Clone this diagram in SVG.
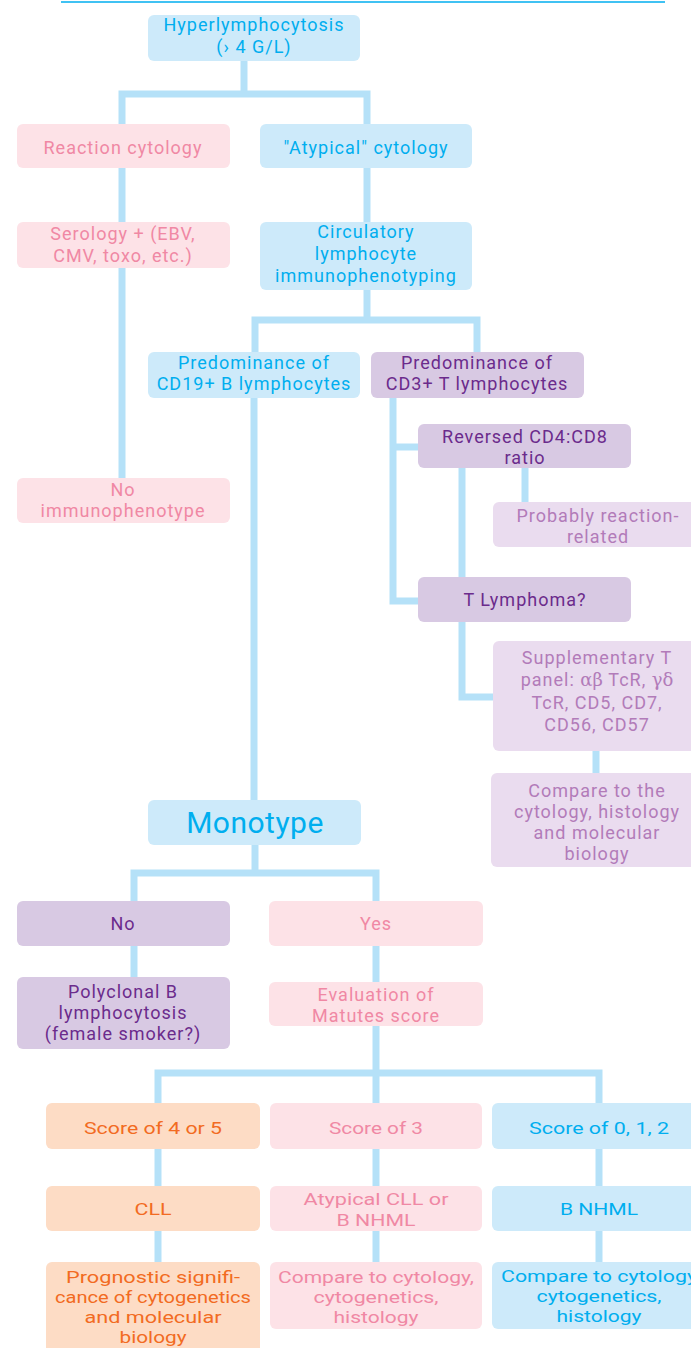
<svg xmlns="http://www.w3.org/2000/svg" width="691" height="1348" viewBox="0 0 691 1348">
<style>
text{font-family:Roboto,"Liberation Sans",sans-serif;font-size:18px;letter-spacing:1px;text-anchor:middle}
text.c{font-size:17px;letter-spacing:0}
.b rect{fill:#CDEAFA}.b text{fill:#00AEEF}
.p rect{fill:#FDE2E7}.p text{fill:#F088A4}
.d rect{fill:#D8C9E3}.d text{fill:#6B2B8C}
.l rect{fill:#EADCEF}.l text{fill:#B27BB9}
.o rect{fill:#FDDCC5}.o text{fill:#F26B22}
.g{font-family:"DejaVu Serif","Liberation Serif",serif;letter-spacing:0}
#connectors path{fill:none;stroke:#B5E1F8;stroke-width:7;stroke-linejoin:miter}
</style>
<line x1="61" y1="2" x2="665" y2="2" stroke="#00AEEF" stroke-width="1.5"/>
<g id="connectors">
<path d="M244,61V94"/><path d="M122,124V94H367V124"/>
<path d="M122,168V222"/><path d="M122,268V478"/>
<path d="M367,168V222"/><path d="M367,290V320"/><path d="M255,352V320H477V352"/>
<path d="M254,398V800"/>
<path d="M393,398V601H418"/><path d="M393,447H418"/>
<path d="M462,468V577"/><path d="M525,468V502"/>
<path d="M462,622V697H493"/><path d="M596,751V773"/>
<path d="M255,845V873"/><path d="M134,901V873H376V901"/>
<path d="M134,946V977"/><path d="M376,946V982"/>
<path d="M376,1026V1103"/><path d="M158,1103V1073H599V1103"/>
<path d="M158,1149V1186"/><path d="M158,1231V1262"/>
<path d="M376,1149V1186"/><path d="M376,1231V1262"/>
<path d="M599,1149V1186"/><path d="M599,1231V1262"/>
</g>
<g id="hyper" class="b"><rect x="148" y="15" width="212" height="46" rx="6"/><text x="254" y="31">Hyperlymphocytosis</text><text x="254" y="53">(› 4 G/L)</text></g>
<g id="reaction" class="p"><rect x="17" y="124" width="213" height="44" rx="6"/><text x="123" y="154">Reaction cytology</text></g>
<g id="atypical" class="b"><rect x="260" y="124" width="212" height="44" rx="6"/><text x="366" y="154">"Atypical" cytology</text></g>
<g id="serology" class="p"><rect x="17" y="222" width="213" height="46" rx="6"/><text x="123" y="240">Serology + (EBV,</text><text x="123" y="262">CMV, toxo, etc.)</text></g>
<g id="circulatory" class="b"><rect x="260" y="222" width="212" height="68" rx="6"/><text x="366" y="238">Circulatory</text><text x="366" y="260">lymphocyte</text><text x="366" y="282">immunophenotyping</text></g>
<g id="cd19" class="b"><rect x="148" y="352" width="212" height="46" rx="6"/><text x="254" y="369">Predominance of</text><text x="254" y="390">CD19+ B lymphocytes</text></g>
<g id="cd3" class="d"><rect x="371" y="352" width="213" height="46" rx="6"/><text x="477" y="369">Predominance of</text><text x="477" y="390">CD3+ T lymphocytes</text></g>
<g id="reversed" class="d"><rect x="418" y="424" width="213" height="44" rx="6"/><text x="525" y="443">Reversed CD4:CD8</text><text x="525" y="464">ratio</text></g>
<g id="probably" class="l"><rect x="493" y="502" width="205" height="45" rx="6"/><text x="598" y="522">Probably reaction-</text><text x="598" y="543">related</text></g>
<g id="noimmuno" class="p"><rect x="17" y="478" width="213" height="45" rx="6"/><text x="123" y="496">No</text><text x="123" y="517">immunophenotype</text></g>
<g id="tlymphoma" class="d"><rect x="418" y="577" width="213" height="45" rx="6"/><text x="525" y="606">T Lymphoma?</text></g>
<g id="supplementary" class="l"><rect x="493" y="641" width="205" height="110" rx="6"/><text x="597" y="664">Supplementary T</text><text x="597" y="686">panel: <tspan class="g">αβ</tspan> TcR, <tspan class="g">γδ</tspan></text><text x="597" y="709">TcR, CD5, CD7,</text><text x="597" y="731">CD56, CD57</text></g>
<g id="compare-t" class="l"><rect x="491" y="773" width="207" height="94" rx="6"/><text x="597" y="797">Compare to the</text><text x="597" y="818">cytology, histology</text><text x="597" y="839">and molecular</text><text x="597" y="860">biology</text></g>
<g id="monotype" class="b"><rect x="148" y="800" width="213" height="45" rx="6"/><text x="255" y="833" style="font-size:30px;letter-spacing:0.5px">Monotype</text></g>
<g id="no" class="d"><rect x="17" y="901" width="213" height="45" rx="6"/><text x="123" y="930">No</text></g>
<g id="yes" class="p"><rect x="269" y="901" width="214" height="45" rx="6"/><text x="376" y="930">Yes</text></g>
<g id="polyclonal" class="d"><rect x="17" y="977" width="213" height="72" rx="6"/><text x="123" y="998">Polyclonal B</text><text x="123" y="1019">lymphocytosis</text><text x="123" y="1040">(female smoker?)</text></g>
<g id="evaluation" class="p"><rect x="269" y="982" width="214" height="44" rx="6"/><text x="376" y="1001">Evaluation of</text><text x="376" y="1022">Matutes score</text></g>
<g id="score45" class="o"><rect x="46" y="1103" width="214" height="46" rx="6"/><text class="c" x="153" y="1134" textLength="138" lengthAdjust="spacingAndGlyphs">Score of 4 or 5</text></g>
<g id="score3" class="p"><rect x="270" y="1103" width="212" height="46" rx="6"/><text class="c" x="376" y="1134" textLength="94" lengthAdjust="spacingAndGlyphs">Score of 3</text></g>
<g id="score012" class="b"><rect x="492" y="1103" width="210" height="46" rx="6"/><text class="c" x="599" y="1134" textLength="140" lengthAdjust="spacingAndGlyphs">Score of 0, 1, 2</text></g>
<g id="cll" class="o"><rect x="46" y="1186" width="214" height="45" rx="6"/><text class="c" x="153" y="1215" textLength="37" lengthAdjust="spacingAndGlyphs">CLL</text></g>
<g id="atypcll" class="p"><rect x="270" y="1186" width="212" height="45" rx="6"/><text class="c" x="376" y="1205" textLength="145" lengthAdjust="spacingAndGlyphs">Atypical CLL or</text><text class="c" x="376" y="1226" textLength="79" lengthAdjust="spacingAndGlyphs">B NHML</text></g>
<g id="bnhml" class="b"><rect x="492" y="1186" width="210" height="45" rx="6"/><text class="c" x="599" y="1215" textLength="78" lengthAdjust="spacingAndGlyphs">B NHML</text></g>
<g id="prognostic" class="o"><rect x="46" y="1262" width="214" height="100" rx="6"/><text class="c" x="153" y="1283" textLength="174" lengthAdjust="spacingAndGlyphs">Prognostic signifi-</text><text class="c" x="153" y="1303" textLength="196" lengthAdjust="spacingAndGlyphs">cance of cytogenetics</text><text class="c" x="153" y="1323" textLength="137" lengthAdjust="spacingAndGlyphs">and molecular</text><text class="c" x="153" y="1343" textLength="67" lengthAdjust="spacingAndGlyphs">biology</text></g>
<g id="compare-p" class="p"><rect x="270" y="1262" width="212" height="67" rx="6"/><text class="c" x="376" y="1283" textLength="196" lengthAdjust="spacingAndGlyphs">Compare to cytology,</text><text class="c" x="376" y="1303" textLength="125" lengthAdjust="spacingAndGlyphs">cytogenetics,</text><text class="c" x="376" y="1323" textLength="85" lengthAdjust="spacingAndGlyphs">histology</text></g>
<g id="compare-b" class="b"><rect x="492" y="1262" width="210" height="67" rx="6"/><text class="c" x="599" y="1282" textLength="196" lengthAdjust="spacingAndGlyphs">Compare to cytology</text><text class="c" x="599" y="1302" textLength="125" lengthAdjust="spacingAndGlyphs">cytogenetics,</text><text class="c" x="599" y="1322" textLength="85" lengthAdjust="spacingAndGlyphs">histology</text></g>
</svg>
